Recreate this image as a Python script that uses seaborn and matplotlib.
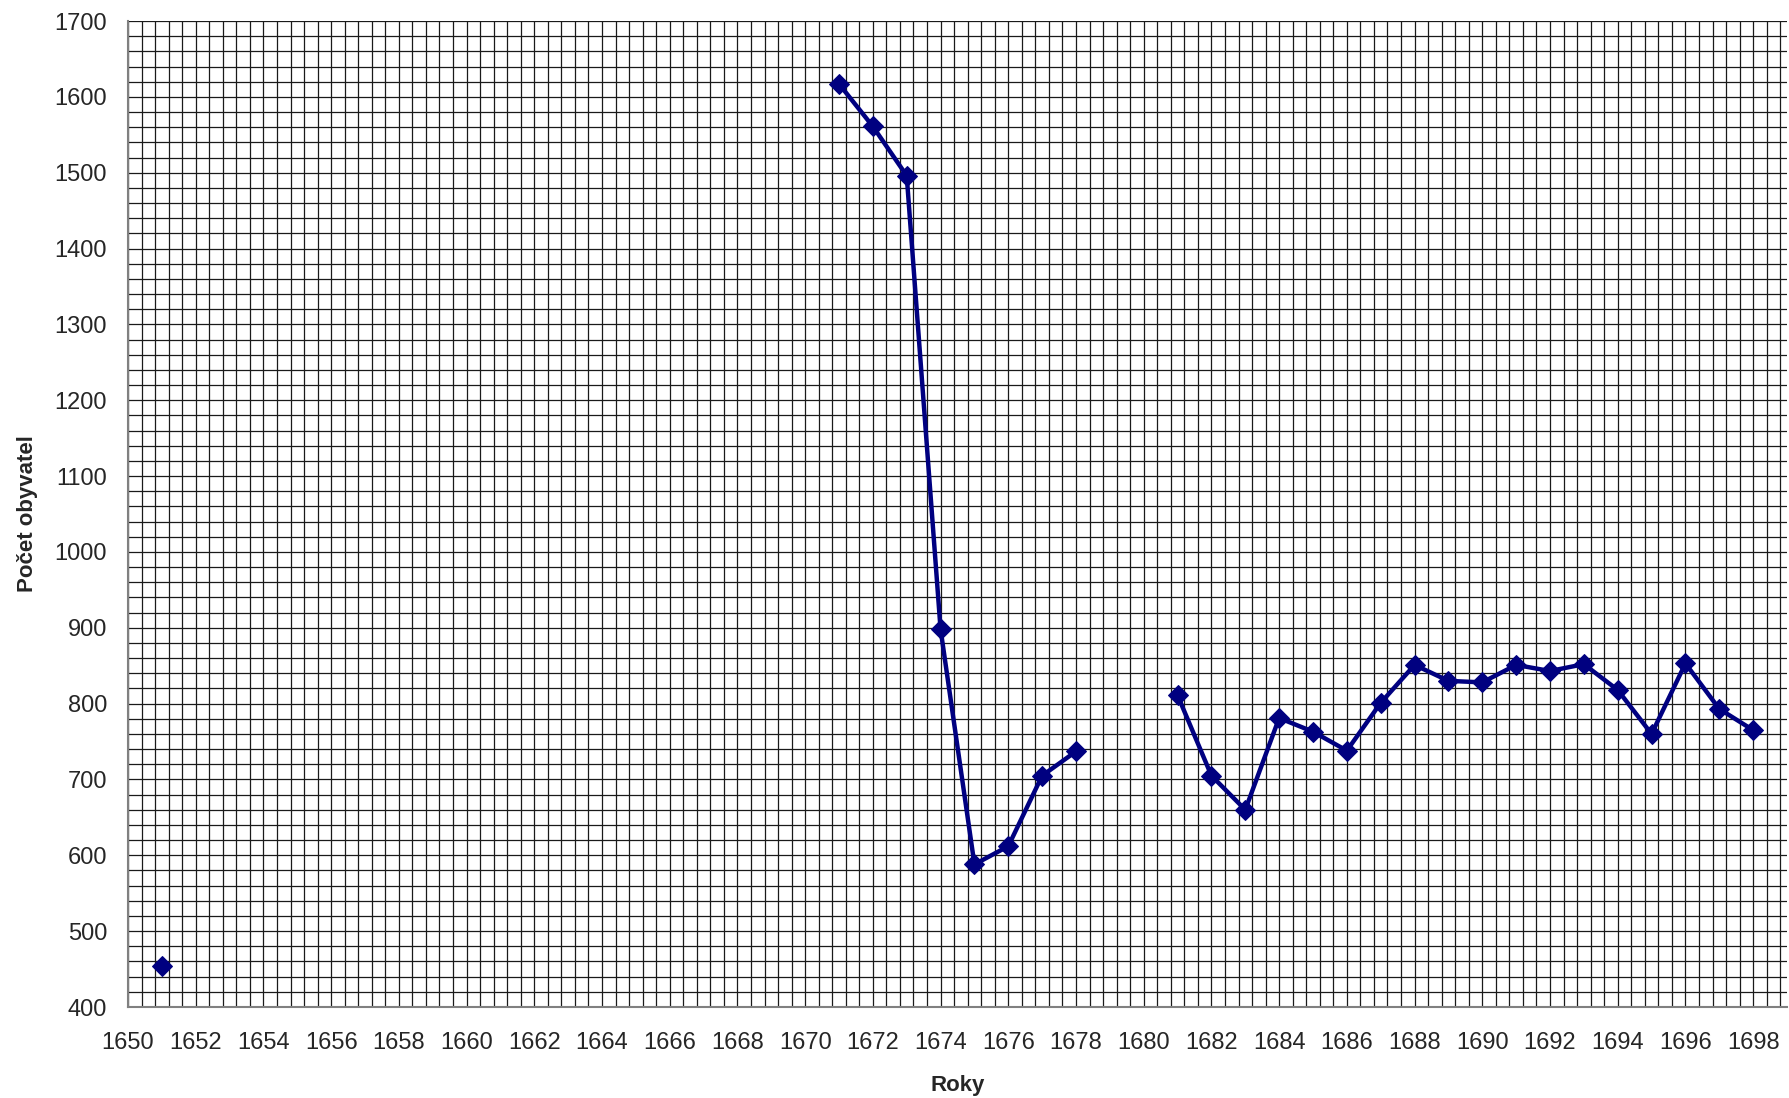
import numpy as np
import pandas as pd
import matplotlib
matplotlib.use("Agg")
import matplotlib.pyplot as plt
import seaborn as sns
from matplotlib.ticker import MultipleLocator

# roky a pocet obyvatel
roky = [1651,
        1671, 1672, 1673, 1674, 1675, 1676, 1677, 1678,
        1681, 1682, 1683, 1684, 1685, 1686, 1687, 1688, 1689, 1690,
        1691, 1692, 1693, 1694, 1695, 1696, 1697, 1698]
pocet = [454,
         1617, 1561, 1496, 898, 588, 612, 705, 737,
         811, 705, 660, 781, 763, 738, 801, 851, 830, 828,
         851, 843, 852, 818, 760, 853, 793, 765]

x_ticks = list(range(1650, 1699, 2))
y_ticks = list(range(400, 1701, 100))

df = pd.DataFrame({"rok": roky, "pocet": pocet})
# missing years break the line into separate segments
df["seg"] = (df["rok"].diff() != 1).cumsum()

sns.set_style("white")
plt.rcParams["font.family"] = ["Liberation Sans", "DejaVu Sans"]

fig = plt.figure(figsize=(17.89, 10.98), dpi=100)
ax = fig.add_axes([128 / 1789, 1 - 1007 / 1098, 1659 / 1789, 986 / 1098])

sns.lineplot(data=df, x="rok", y="pocet", units="seg", estimator=None,
             color="#000080", linewidth=3.2, marker="D", markersize=10.5,
             markeredgecolor="#000080", ax=ax, zorder=5)

ax.set_xlim(1650, 1699)
ax.set_ylim(400, 1700)
ax.set_xticks(x_ticks)
ax.set_yticks(y_ticks)
ax.xaxis.set_minor_locator(MultipleLocator(0.4))
ax.yaxis.set_minor_locator(MultipleLocator(20))
ax.grid(True, which="both", color="#1a1a1a", linewidth=0.9)
ax.set_axisbelow(True)

ax.tick_params(axis="both", which="major", direction="out", length=7,
               width=1, color="#808080", labelsize=17, pad=8)
ax.tick_params(axis="x", which="major", pad=11)
ax.tick_params(axis="both", which="minor", length=0)
for s in ["top", "right"]:
    ax.spines[s].set_visible(False)
for s in ["left", "bottom"]:
    ax.spines[s].set_color("#808080")
    ax.spines[s].set_linewidth(1.5)

ax.set_xlabel("Roky", fontsize=16, fontweight="bold", labelpad=15)
ax.set_ylabel("Počet obyvatel", fontsize=16, fontweight="bold", labelpad=12)

fig.savefig("out.png", dpi=100)
